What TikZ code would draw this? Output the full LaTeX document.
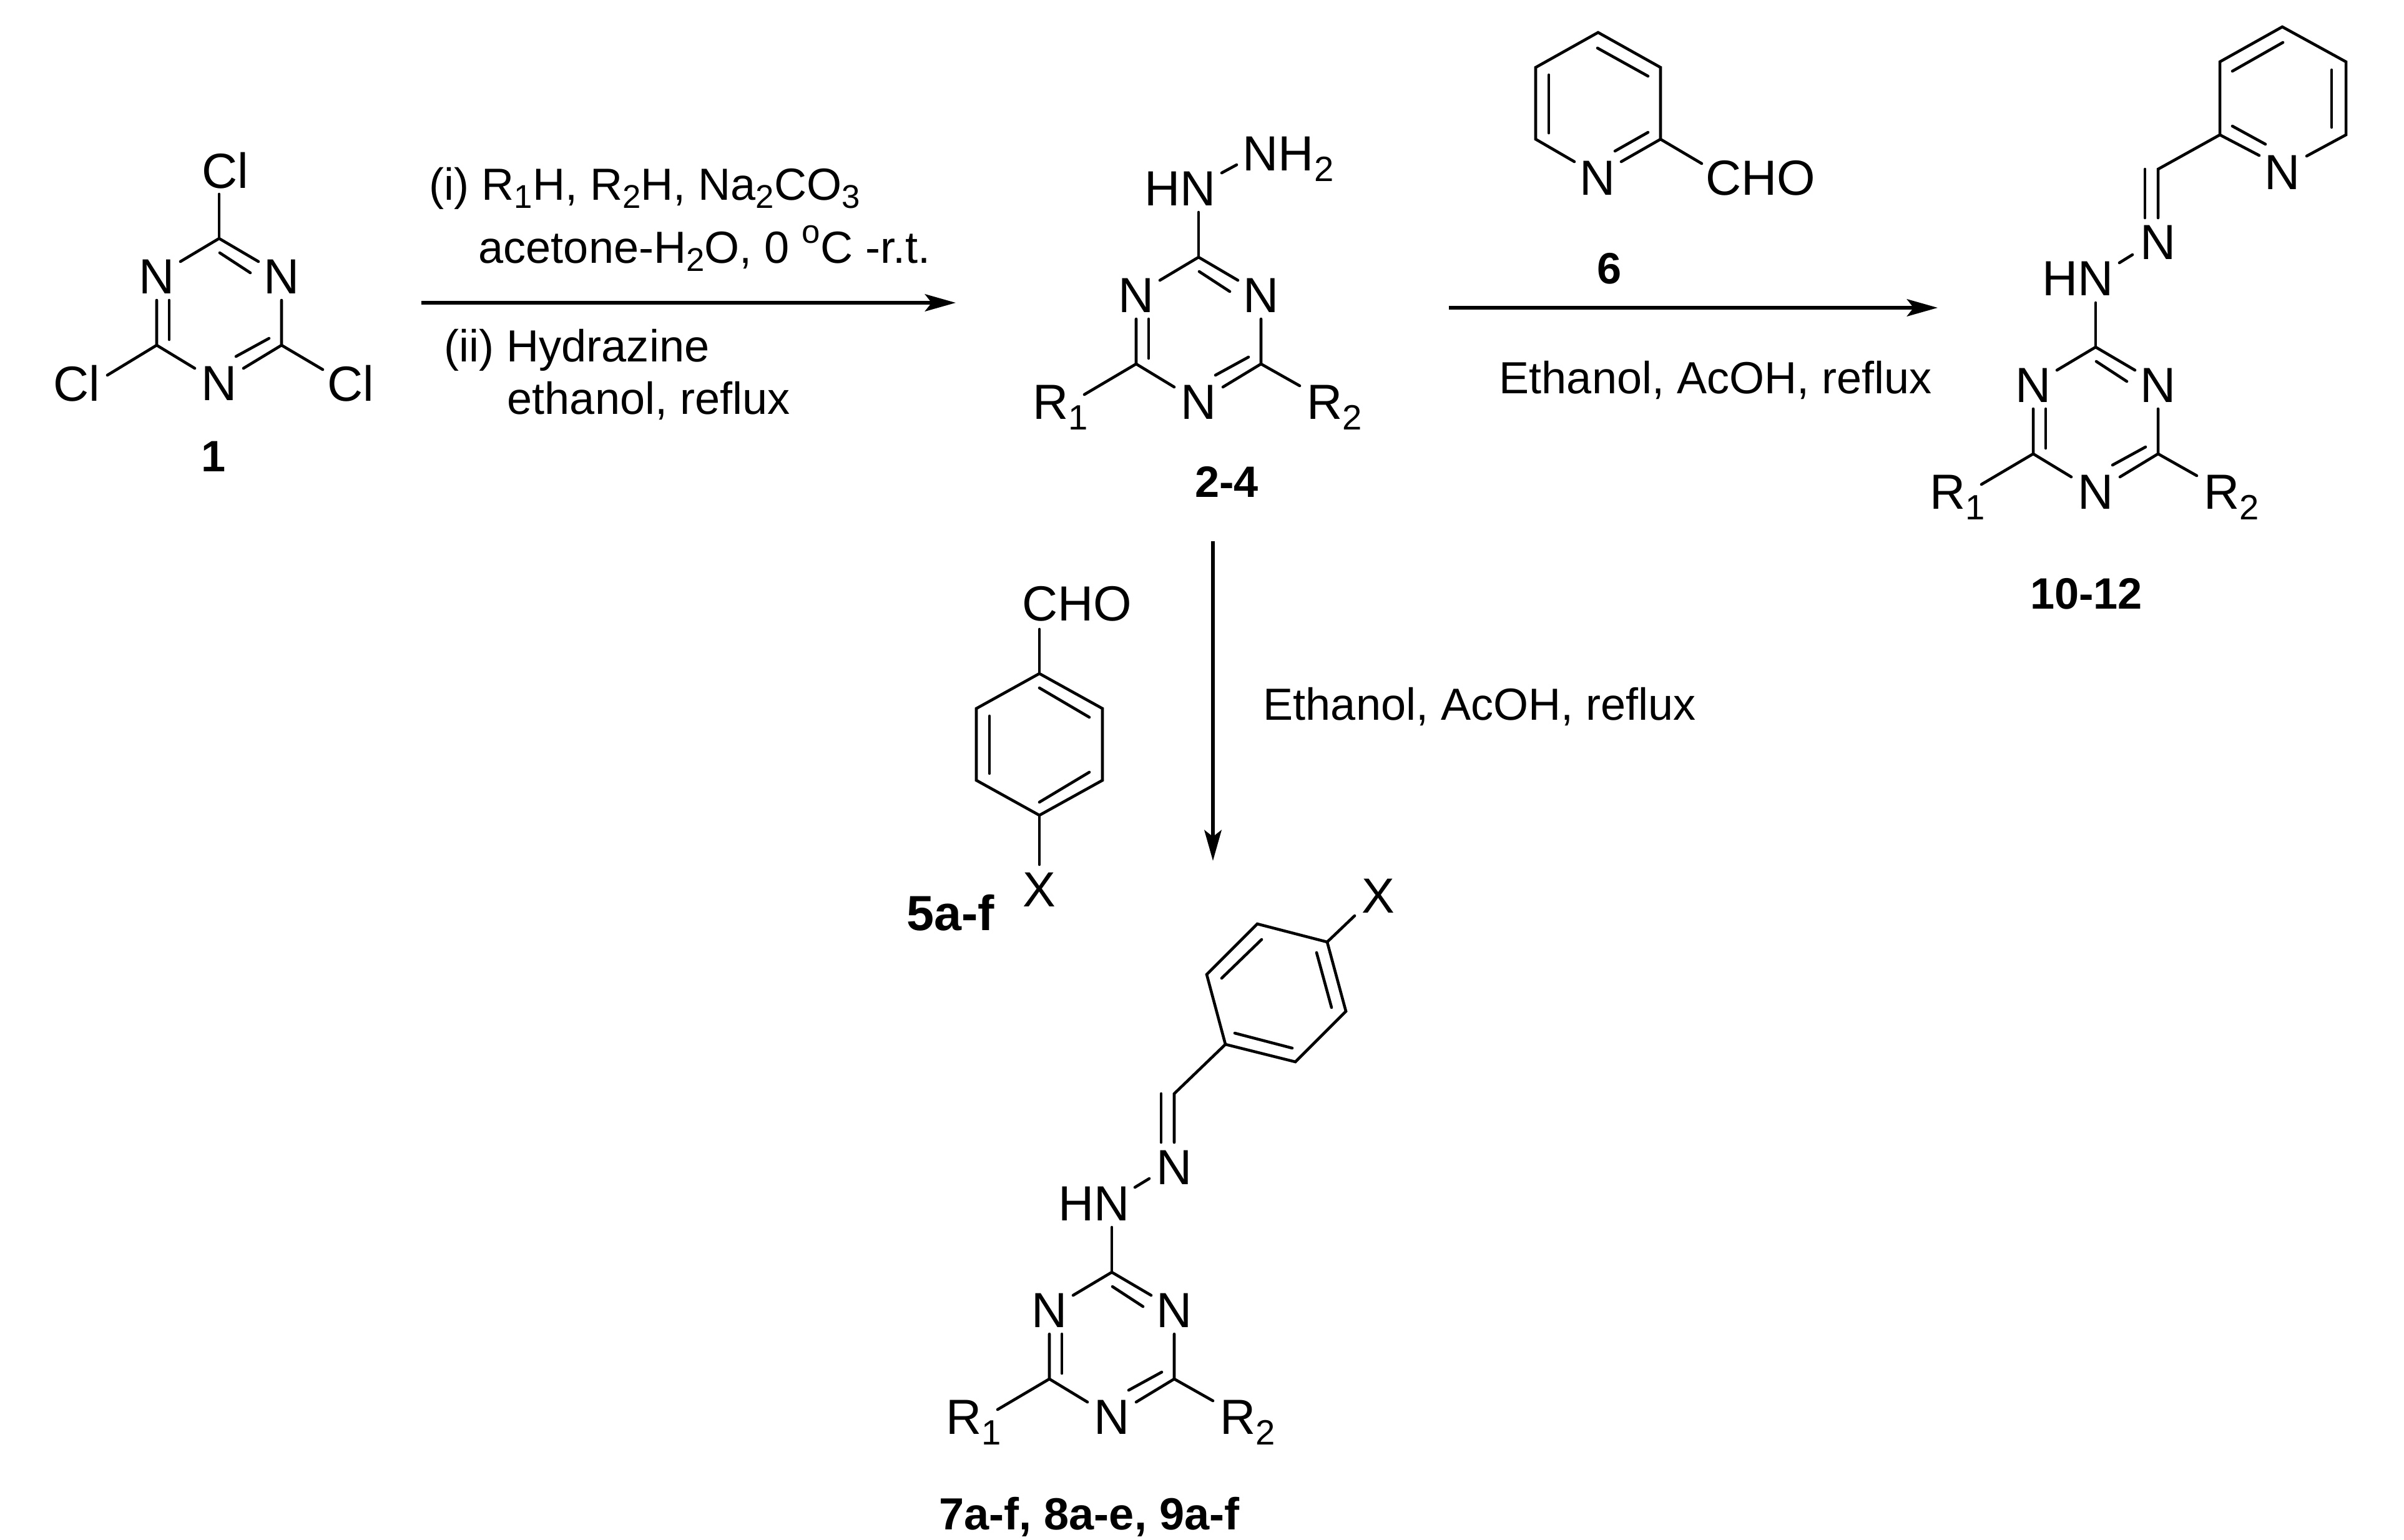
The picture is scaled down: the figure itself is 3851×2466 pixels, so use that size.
\documentclass[tikz,border=0pt]{standalone}
\usepackage{fontspec}
\setmainfont{Liberation Sans}
\usetikzlibrary{arrows.meta}
\newcommand\lowsub[1]{\raisebox{-4.8pt}{\fontsize{16}{16}\selectfont #1}}
\newcommand\rgsub[1]{\raisebox{-3.8pt}{\fontsize{15}{15}\selectfont #1}}
\tikzset{
  bond/.style={line width=1.3pt,line cap=round,line join=miter},
  rxn/.style={line width=1.6pt,-{Stealth[length=14pt,width=7.8pt,inset=3pt]}},
  atomlab/.style={inner sep=0pt,font=\fontsize{22.5}{24}\selectfont,text height=16.1pt,text depth=0pt},
  reagent/.style={inner sep=0pt,anchor=base west,font=\fontsize{20.5}{24}\selectfont},
  cmpd/.style={inner sep=0pt,font=\fontsize{20}{24}\selectfont\bfseries,text height=14.4pt,text depth=0pt},
  cmpdlarge/.style={inner sep=0pt,font=\fontsize{22.5}{24}\selectfont\bfseries,text height=16.1pt,text depth=0pt},
  cmpdwide/.style={inner sep=0pt,font=\fontsize{20.5}{24}\selectfont\bfseries,text height=14.7pt,text depth=0pt}
}
% triazine ring: top carbon at the scope origin
\newcommand\triazinering{%
  \node[atomlab] (Nl) at (-100,60) {N};
  \node[atomlab] (Nr) at (100,60) {N};
  \node[atomlab] (Nb) at (0,231) {N};
  \draw[bond] (-62,37) -- (0,0) -- (63,37);
  \draw[bond] (1,23) -- (50,55);
  \draw[bond] (-100,99) -- (-100,171) -- (-39,208);
  \draw[bond] (-80,99) -- (-80,162);
  \draw[bond] (100,99) -- (100,171) -- (39,208);
  \draw[bond] (27,189) -- (80,160);
}
% R1 / R2 substituents
\newcommand\rgroups{%
  \draw[bond] (-100,171) -- (-183,220);
  \draw[bond] (100,171) -- (162,206);
  \node[atomlab,anchor=west] (Ra) at (-266,231) {R\lowsub{1}};
  \node[atomlab,anchor=west] (Rb) at (173,231) {R\lowsub{2}};
}
\begin{document}
\begin{tikzpicture}[x=0.01cm,y=-0.01cm]
\useasboundingbox (0,0) rectangle (3851,2466);
\fill[white] (0,0) rectangle (3851,2466);

% ---------- compound 1
\begin{scope}[shift={(351,382)},name prefix=c1-]
  \triazinering
  \draw[bond] (0,0) -- (0,-71);
  \draw[bond] (-100,171) -- (-179,219);
  \draw[bond] (100,171) -- (166,210);
  \node[atomlab] (Cla) at (10,-109) {Cl};
  \node[atomlab] (Clb) at (-228,232) {Cl};
  \node[atomlab] (Clc) at (211,232) {Cl};
\end{scope}
\node[cmpd] (lab1) at (342,730) {1};

% ---------- compound 2-4
\begin{scope}[shift={(1920,412)},name prefix=c2-]
  \triazinering
  \rgroups
  \draw[bond] (0,0) -- (0,-72);
  \node[atomlab,anchor=east] (HN) at (28,-111) {HN};
  \node[atomlab,anchor=west] (NH) at (70,-167) {NH\lowsub{2}};
  \draw[bond] (37,-135) -- (61,-148);
\end{scope}
\node[cmpd] (lab2) at (1965,771) {2-4};

% ---------- compound 6
\begin{scope}[name prefix=c6-]
  \node[atomlab] (N) at (2559,284) {N};
  \node[atomlab] (CHO) at (2820,284) {CHO};
  \draw[bond] (2522,259) -- (2460,223) -- (2460,108) -- (2560,52) -- (2660,108) -- (2660,223) -- (2597,259);
  \draw[bond] (2660,223) -- (2726,262);
  \draw[bond] (2587,242) -- (2640,212);
  \draw[bond] (2559,77) -- (2640,122);
  \draw[bond] (2481,120) -- (2481,213);
\end{scope}
\node[cmpd] (lab6) at (2578,429) {6};

% ---------- compound 10-12
\begin{scope}[shift={(3357,556)},name prefix=c10-]
  \triazinering
  \rgroups
  \draw[bond] (0,0) -- (0,-71);
  \node[atomlab,anchor=east] (HN) at (29,-111) {HN};
  \node[atomlab] (Nim) at (100,-169) {N};
  \draw[bond] (38,-135) -- (59,-148);
  \draw[bond] (100,-207) -- (100,-285) -- (199,-340);
  \draw[bond] (79,-207) -- (79,-285);
  \node[atomlab] (Npy) at (299,-281) {N};
  \draw[bond] (262,-307) -- (199,-340) -- (199,-457) -- (299,-513) -- (401,-457) -- (401,-340) -- (338,-306);
  \draw[bond] (219,-354) -- (272,-325);
  \draw[bond] (219,-442) -- (300,-488);
  \draw[bond] (378,-444) -- (378,-352);
\end{scope}
\node[cmpd] (lab10) at (3342,950) {10-12};

% ---------- compound 5a-f
\begin{scope}[name prefix=c5-]
  \node[atomlab] (CHO) at (1725,966) {CHO};
  \node[atomlab] (X) at (1665,1424) {X};
  \draw[bond] (1665,1008) -- (1665,1079);
  \draw[bond] (1665,1079) -- (1766,1135) -- (1766,1250) -- (1665,1306) -- (1564,1250) -- (1564,1135) -- cycle;
  \draw[bond] (1665,1102) -- (1745,1149);
  \draw[bond] (1585,1147) -- (1585,1239);
  \draw[bond] (1665,1285) -- (1745,1237);
  \draw[bond] (1665,1306) -- (1665,1385);
\end{scope}
\node[cmpdlarge] (lab5) at (1523,1462) {5a-f};

% ---------- compound 7a-f, 8a-e, 9a-f
\begin{scope}[shift={(1781,2038)},name prefix=c7-]
  \triazinering
  \rgroups
  \draw[bond] (0,0) -- (0,-72);
  \node[atomlab,anchor=east] (HN) at (29,-111) {HN};
  \node[atomlab] (Nim) at (100,-169) {N};
  \draw[bond] (37,-136) -- (60,-150);
  \draw[bond] (100,-208) -- (100,-286) -- (182,-365);
  \draw[bond] (79,-208) -- (79,-286);
  \draw[bond] (182,-365) -- (294,-337) -- (375,-418) -- (345,-529) -- (233,-558) -- (152,-477) -- cycle;
  \draw[bond] (197,-383) -- (289,-359);
  \draw[bond] (352,-424) -- (328,-512);
  \draw[bond] (240,-533) -- (176,-471);
  \draw[bond] (345,-529) -- (389,-571);
  \node[atomlab] (X) at (427,-604) {X};
\end{scope}
\node[cmpdwide] (lab7) at (1745,2425) {7a-f, 8a-e, 9a-f};

% ---------- reaction arrows
\coordinate (a1s) at (675,485);
\coordinate (a1e) at (1531,485);
\coordinate (a2s) at (2321,493);
\coordinate (a2e) at (3104,493);
\coordinate (a3s) at (1943,867);
\coordinate (a3e) at (1943,1379);
\draw[rxn] (a1s) -- (a1e);
\draw[rxn] (a2s) -- (a2e);
\draw[rxn] (a3s) -- (a3e);

% ---------- reagents
\node[reagent] (r1) at (687,320) {(i) R\rgsub{1}H, R\rgsub{2}H, Na\rgsub{2}CO\rgsub{3}};
\node[reagent] (r2) at (766,421) {acetone-H\rgsub{2}O, 0 \raisebox{9pt}{\fontsize{15}{15}\selectfont o}C -r.t.};
\node[reagent] (r3) at (711,579) {(ii) Hydrazine};
\node[reagent] (r4) at (812,663) {ethanol, reflux};
\node[reagent] (r5) at (2401,630) {Ethanol, AcOH, reflux};
\node[reagent] (r6) at (2023,1153) {Ethanol, AcOH, reflux};
\end{tikzpicture}
\end{document}
